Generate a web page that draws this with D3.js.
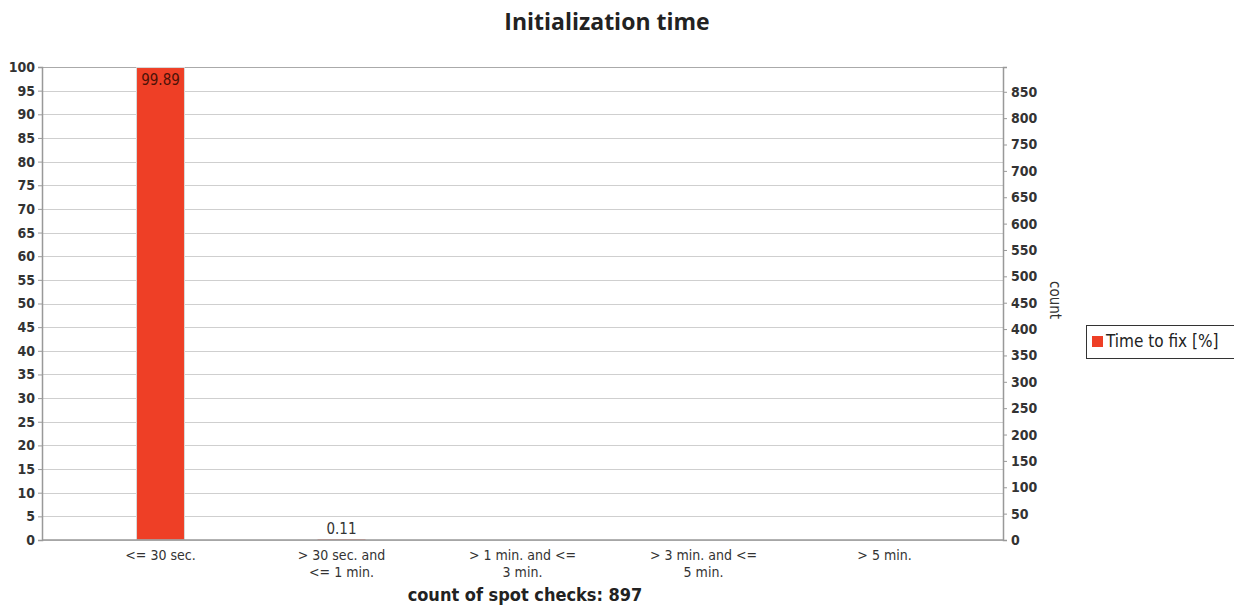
<!DOCTYPE html>
<html><head><meta charset="utf-8">
<script src="https://cdn.jsdelivr.net/npm/d3@7"></script>
<style>body{margin:0;background:#fff}svg{display:block}</style>
</head><body><svg id="c" width="1234" height="606"></svg>
<script>
const categories = [["<= 30 sec."], ["> 30 sec. and", "<= 1 min."], ["> 1 min. and <=", "3 min."], ["> 3 min. and <=", "5 min."], ["> 5 min."]];
const percentValues = [99.89, 0.11, 0, 0, 0];
const valueLabels = ["99.89", "0.11", "", "", ""];
const leftTicks = d3.range(0, 101, 5);
const rightTicks = d3.range(0, 851, 50);
const totalCount = 897;
const title = "Initialization time";
const xTitle = "count of spot checks: 897";
const rightTitle = "count";
const legendLabel = "Time to fix [%]";

const svg = d3.select("#c");
const L = 42, R = 1003, T = 67, B = 540;
const font = "'DejaVu Sans Condensed','DejaVu Sans',sans-serif";

const x = d3.scaleBand().domain(d3.range(categories.length)).range([70, 975]).paddingInner(0.735).paddingOuter(0.3675);
const y = d3.scaleLinear().domain([0, 100]).range([B, T]);
const y2 = d3.scaleLinear().domain([0, totalCount]).range([B, T]);

svg.append("text").attr("x", 607).attr("y", 30).attr("text-anchor", "middle")
  .attr("font-family", "'Open Sans','Noto Sans',sans-serif").attr("font-weight", "bold").attr("font-size", 23).attr("fill", "#222").text(title);

// grid
svg.append("g").selectAll("line").data(leftTicks).join("line")
  .attr("x1", L).attr("x2", R).attr("y1", d => Math.round(y(d)) + 0.5).attr("y2", d => Math.round(y(d)) + 0.5)
  .attr("stroke", "#cfcfcf").attr("stroke-width", 1.2);
svg.append("line").attr("x1", L).attr("x2", R).attr("y1", T + 0.5).attr("y2", T + 0.5).attr("stroke", "#aaa");

// bars
svg.append("g").selectAll("rect").data(percentValues).join("rect")
  .attr("x", (d, i) => x(i)).attr("width", x.bandwidth())
  .attr("y", d => y(d)).attr("height", d => B - y(d))
  .attr("fill", "#ee3f26").attr("stroke", "#d9d9d9").attr("stroke-width", d => d > 1 ? 1 : 0);

// value labels
svg.append("g").selectAll("text").data(percentValues).join("text")
  .attr("x", (d, i) => x(i) + x.bandwidth() / 2)
  .attr("y", d => d > 5 ? y(d) + 17 : y(d) - 5)
  .attr("text-anchor", "middle").attr("font-family", font).attr("font-size", 15)
  .attr("fill", d => d > 5 ? "#4a1208" : "#333")
  .text((d, i) => valueLabels[i]);

// left axis
const ga = svg.append("g").attr("transform", `translate(${L},0)`).call(d3.axisLeft(y).tickValues(leftTicks).tickSize(4).tickPadding(3));
ga.select(".domain").attr("stroke", "#999").attr("stroke-width", 1.5);
ga.selectAll(".tick line").attr("stroke", "#999");
ga.selectAll("text").attr("font-family", font).attr("font-size", 14).attr("fill", "#333").attr("font-weight", "bold");

// right axis
const gr = svg.append("g").attr("transform", `translate(${R},0)`).call(d3.axisRight(y2).tickValues(rightTicks).tickSize(4).tickPadding(4));
gr.select(".domain").attr("stroke", "#999").attr("stroke-width", 1.5);
gr.selectAll(".tick line").attr("stroke", "#999");
gr.selectAll("text").attr("font-family", font).attr("font-size", 14).attr("fill", "#333").attr("font-weight", "bold");

// bottom axis
const gb = svg.append("g").attr("transform", `translate(0,${B})`);
gb.append("line").attr("x1", L).attr("x2", R).attr("stroke", "#999").attr("stroke-width", 1.5);
categories.forEach((lines, i) => {
  const t = gb.append("text").attr("text-anchor", "middle").attr("font-family", font).attr("font-size", 14).attr("fill", "#333");
  lines.forEach((s, j) => t.append("tspan").attr("x", x(i) + x.bandwidth() / 2).attr("y", 20 + j * 17).text(s));
});

svg.append("text").attr("x", 525).attr("y", 601).attr("text-anchor", "middle")
  .attr("font-family", font).attr("font-weight", "bold").attr("font-size", 18).attr("fill", "#222").text(xTitle);

svg.append("text").attr("transform", "translate(1050,300) rotate(90)").attr("text-anchor", "middle")
  .attr("font-family", font).attr("font-size", 15).attr("fill", "#333").text(rightTitle);

// legend
const lg = svg.append("g").attr("transform", "translate(1086,325)");
lg.append("rect").attr("x", 0.5).attr("y", 0.5).attr("width", 160).attr("height", 33).attr("fill", "#fff").attr("stroke", "#333");
lg.append("rect").attr("x", 6).attr("y", 11).attr("width", 11).attr("height", 11).attr("fill", "#ee3f26");
lg.append("text").attr("x", 20).attr("y", 22).attr("font-family", font).attr("font-size", 17).attr("fill", "#222").text(legendLabel);
</script></body></html>
